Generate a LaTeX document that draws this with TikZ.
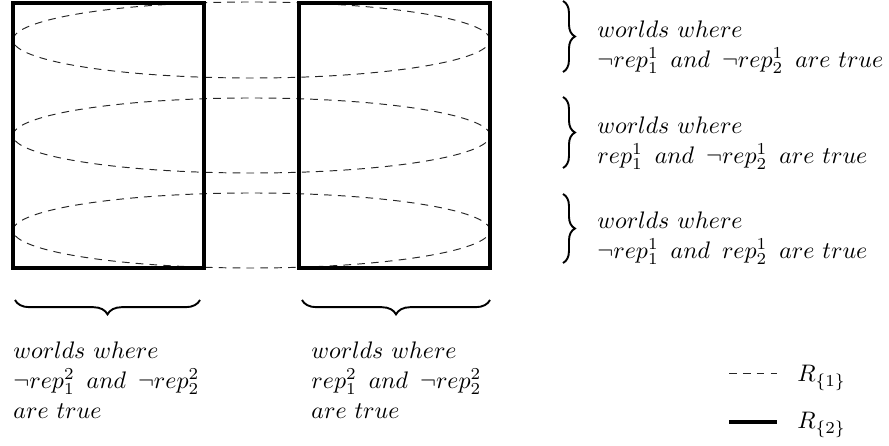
\documentclass[tikz,border=0pt]{standalone}
\usepackage{amsmath}
\usetikzlibrary{decorations.pathreplacing, positioning}

\begin{document}
\begin{tikzpicture}[
        x=0.4184pt, y=0.4184pt,
        every node/.style={font=\fontsize{10}{12.6}\selectfont},
        rel1/.style={line width=0.4pt, dash pattern=on 3.2pt off 2.6pt, black!85},
        rel2/.style={line width=1.9pt},
        rbrace/.style={decorate, decoration={brace, amplitude=5pt}, line width=0.8pt},
        ubrace/.style={decorate, decoration={brace, mirror, amplitude=6pt}, line width=0.8pt},
        label/.style={align=left, inner sep=0pt, anchor=west}
    ]
        \useasboundingbox (0,0) rectangle (889,445);

        % Worlds of R_{1}
        \draw[rel1] (251.5,405) ellipse [x radius=238.5, y radius=38];
        \draw[rel1] (251.5,309.5) ellipse [x radius=238.5, y radius=37.5];
        \draw[rel1] (251.5,214.5) ellipse [x radius=238.5, y radius=37.5];

        % Worlds of R_{2}
        \coordinate (l-sw) at (13,177);
        \coordinate (l-ne) at (204,442);
        \coordinate (r-sw) at (299,177);
        \coordinate (r-ne) at (490,442);
        \draw[rel2] (l-sw) rectangle (l-ne);
        \draw[rel2] (r-sw) rectangle (r-ne);

        % Braces on the right
        \coordinate (b1-top) at (563,444);
        \coordinate (b1-bot) at (563,373);
        \coordinate (b2-top) at (563,348);
        \coordinate (b2-bot) at (563,277);
        \coordinate (b3-top) at (563,251);
        \coordinate (b3-bot) at (563,182);
        \draw[rbrace] (b1-top) -- (b1-bot);
        \draw[rbrace] (b2-top) -- (b2-bot);
        \draw[rbrace] (b3-top) -- (b3-bot);

        \node[label] (w1) at (597,398) {$worlds\ where$\\ $\neg rep^1_1\ \,and\ \,\neg rep^1_2\ \,are\ true$};
        \node[label] (w2) at (597,302) {$worlds\ where$\\ $rep^1_1\ \,and\ \,\neg rep^1_2\ \,are\ true$};
        \node[label] (w3) at (597,207) {$worlds\ where$\\ $\neg rep^1_1\ \,and\ \,rep^1_2\ \,are\ true$};

        % Braces below
        \coordinate (u1-l) at (15,145);
        \coordinate (u1-r) at (200,145);
        \coordinate (u2-l) at (302,145);
        \coordinate (u2-r) at (490,145);
        \draw[ubrace] (u1-l) -- (u1-r);
        \draw[ubrace] (u2-l) -- (u2-r);

        \node[label] (v1) at (13,65) {$worlds\ where$\\ $\neg rep^2_1\ \,and\ \,\neg rep^2_2$\\ $are\ true$};
        \node[label] (v2) at (311,65) {$worlds\ where$\\ $rep^2_1\ \,and\ \,\neg rep^2_2$\\ $are\ true$};

        % Legend
        \coordinate (k1-a) at (729,72);
        \coordinate (k1-b) at (777,72);
        \coordinate (k2-a) at (729,23);
        \coordinate (k2-b) at (777,23);
        \draw[rel1] (k1-a) -- (k1-b);
        \draw[rel2] (k2-a) -- (k2-b);
        \node[label] (r1) at (797,67) {$R_{\{1\}}$};
        \node[label] (r2) at (797,20) {$R_{\{2\}}$};

    \end{tikzpicture}
\end{document}
